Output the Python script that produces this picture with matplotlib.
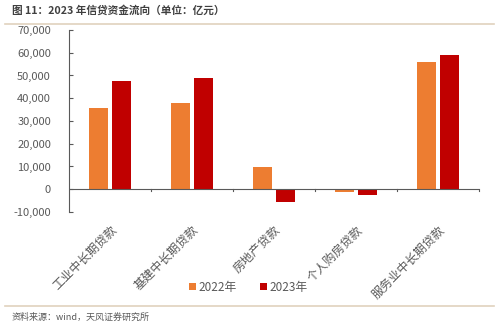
import matplotlib
matplotlib.use("Agg")
import matplotlib.pyplot as plt
import numpy as np

plt.rcParams['font.family'] = ['Noto Sans CJK SC', 'DejaVu Sans']

categories = ["工业中长期贷款", "基建中长期贷款", "房地产贷款", "个人购房贷款", "服务业中长期贷款"]
v2022 = [35700, 37900, 9800, -1000, 55900]
v2023 = [47700, 48900, -5400, -2500, 58900]
series_names = ["2022年", "2023年"]
yticks = [-10000, 0, 10000, 20000, 30000, 40000, 50000, 60000, 70000]

c22 = "#ED7D31"
c23 = "#C00000"
gray = "#595959"

fig = plt.figure(figsize=(4.99, 3.25), dpi=100)
ax = fig.add_axes([69/499, 1-212/325, (479-69)/499, (212-30)/325])

x = np.arange(len(categories))
w = 0.225
off = 0.142
ax.bar(x - off, v2022, w, color=c22, label=series_names[0], zorder=2)
ax.bar(x + off, v2023, w, color=c23, label=series_names[1], zorder=2)

ax.set_xlim(-0.5, len(categories) - 0.5)
ax.set_ylim(-10000, 70000)
ax.set_yticks(yticks)
ax.set_yticklabels([f"{t:,}" for t in yticks], color=gray, fontsize=8)
ax.tick_params(axis='y', length=3, color=gray, width=0.8, pad=13, direction='in')

for s in ['top', 'right', 'bottom']:
    ax.spines[s].set_visible(False)
ax.spines['left'].set_color(gray)
ax.spines['left'].set_linewidth(0.8)

ax.axhline(0, color=gray, lw=0.8, zorder=3)
ax.set_xticks([])
for b in np.arange(0.5, len(categories), 1.0):
    ax.plot([b, b], [0, -600], color=gray, lw=0.8, clip_on=False, zorder=3)
for i, c in enumerate(categories):
    ax.text(i + 0.0, -15000, c, rotation=45, ha='right', va='top',
            rotation_mode='anchor', fontsize=8.7, color=gray)

leg = fig.legend(loc='center', bbox_to_anchor=(248/499, 1-287/325), ncol=2,
                 frameon=False, fontsize=8.5, handlelength=0.6, handleheight=0.6,
                 columnspacing=2.0, handletextpad=0.2)
for t in leg.get_texts():
    t.set_color(gray)

fig.text(12/499, 1-10/325, "图 11：2023 年信贷资金流向（单位：亿元）", fontsize=7.7,
         fontweight='bold', color="#404040", va='center', ha='left')
fig.add_artist(plt.Line2D([5/499, 494/499], [1-24/325, 1-24/325], color="#E0D2BE", lw=1.2))
fig.add_artist(plt.Line2D([5/499, 494/499], [1-306/325, 1-306/325], color="#E0D2BE", lw=1.2))
fig.text(12/499, 1-317/325, "资料来源：wind，天风证券研究所", fontsize=6.5, color=gray,
         va='center', ha='left')

fig.savefig("out.png", dpi=100)
